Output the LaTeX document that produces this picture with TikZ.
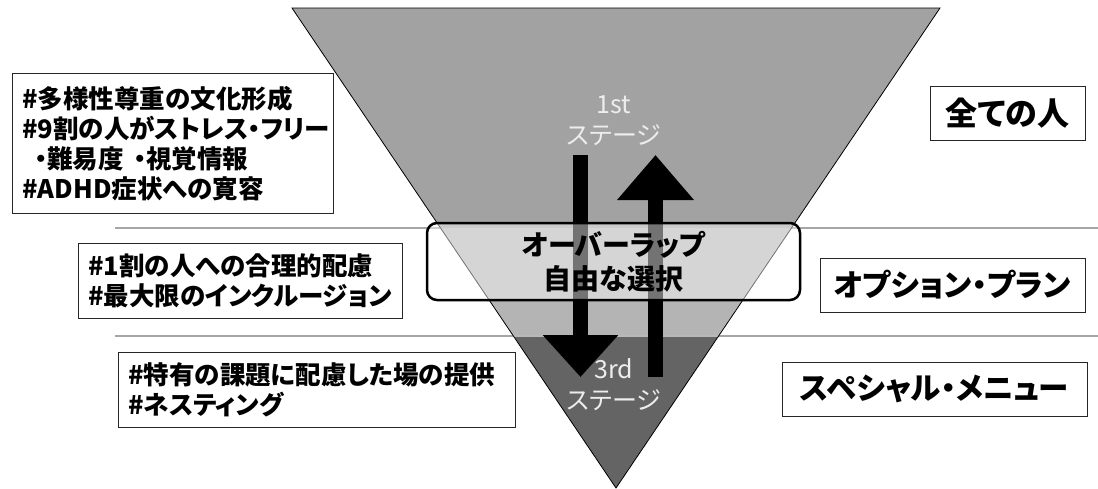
\documentclass[tikz,border=0pt]{standalone}
\usepackage{fontspec}
\setmainfont{Noto Sans CJK JP}[RawFeature=+palt]
\usepackage{tikz}
\usetikzlibrary{arrows.meta,positioning}
\definecolor{stagetop}{HTML}{A2A2A2}
\definecolor{stagemid}{HTML}{B4B4B4}
\definecolor{stagelow}{HTML}{646464}
\definecolor{stagetext}{HTML}{EDEDED}

\begin{document}
\begin{tikzpicture}[
    x=1pt, y=-1pt,
    every node/.style={font=\fontsize{25.5}{30}\selectfont\bfseries},
    notebox/.style={
        rectangle,
        draw=black!85,
        line width=0.8pt,
        fill=white,
        inner xsep=10pt,
        align=left,
        anchor=north west
    },
    groupbox/.style={
        rectangle,
        draw=black!85,
        line width=0.8pt,
        fill=white,
        minimum height=54pt,
        font=\fontsize{30.5}{34}\selectfont\bfseries
    },
    stagelabel/.style={
        font=\fontsize{25}{31}\selectfont,
        text=stagetext,
        align=center
    },
    blockarrow/.style={line width=15pt, black}
]
    \useasboundingbox (0,0) rectangle (1098,488);

    % === LAYER LINES ===
    \coordinate (lineAstart) at (115,228);
    \coordinate (lineAend) at (1098,228);
    \coordinate (lineBstart) at (115,336);
    \coordinate (lineBend) at (1098,336);
    \draw[gray!70, line width=1.2pt] (lineAstart) -- (lineAend);
    \draw[gray!70, line width=1.2pt] (lineBstart) -- (lineBend);

    % === INVERTED TRIANGLE ===
    \coordinate (topleft) at (292,8);
    \coordinate (topright) at (940,8);
    \coordinate (apex) at (616,488);
    \begin{scope}
        \clip (topleft) -- (topright) -- (apex) -- cycle;
        \fill[stagetop] (280,0) rectangle (950,228);
        \fill[stagemid] (280,228) rectangle (950,336);
        \fill[stagelow] (280,336) rectangle (950,490);
        \draw[gray!55, line width=1.2pt] (280,336) -- (950,336);
    \end{scope}
    \draw[black, line width=0.8pt] (topleft) -- (topright) -- (apex) -- cycle;

    % Stage labels
    \node[stagelabel] (first) at (614,121) {1st\\ステージ};
    \node[stagelabel] (third) at (614,385) {3rd\\ステージ};

    % === ARROWS ===
    \coordinate (downstart) at (580.5,155);
    \coordinate (downend) at (580.5,377);
    \coordinate (upstart) at (655.5,377);
    \coordinate (upend) at (655.5,155);
    \draw[blockarrow, -{Triangle[width=73pt, length=42pt]}] (downstart) -- (downend);
    \draw[blockarrow, -{Triangle[width=74pt, length=45pt]}] (upstart) -- (upend);

    % === OVERLAP BOX ===
    \node[rectangle, rounded corners=10pt, draw=black, line width=2.5pt,
          fill=white, fill opacity=0.45, text opacity=1,
          minimum width=373pt, minimum height=77pt, align=center,
          font=\fontsize{28}{34}\selectfont\bfseries] (overlap) at (613.5,261.5)
          {オーバーラップ\\自由な選択};

    % === LEFT NOTES ===
    \node[notebox, minimum width=321pt, minimum height=140pt, text width=301pt] (notesall) at (12,73) {
        \#多様性尊重の文化形成\\
        \#9割の人がストレス・フリー\\
        \hspace*{12pt}・難易度\hspace{10pt}・視覚情報\\
        \#ADHD症状への寛容
    };
    \node[notebox, minimum width=324pt, minimum height=75pt, text width=304pt] (notesoption) at (78,243) {
        \#1割の人への合理的配慮\\
        \#最大限のインクルージョン
    };
    \node[notebox, minimum width=397pt, minimum height=75pt, text width=377pt] (notesspecial) at (118,352) {
        \#特有の課題に配慮した場の提供\\
        \#ネスティング
    };

    % === RIGHT GROUPS ===
    \node[groupbox, minimum width=155pt, font=\fontsize{32}{36}\selectfont\bfseries] (groupall) at (1007.5,113) {全ての人};
    \node[groupbox, minimum width=265pt] (groupoption) at (952.5,285) {オプション・プラン};
    \node[groupbox, minimum width=305pt] (groupspecial) at (934.5,389) {スペシャル・メニュー};
\end{tikzpicture}
\end{document}
